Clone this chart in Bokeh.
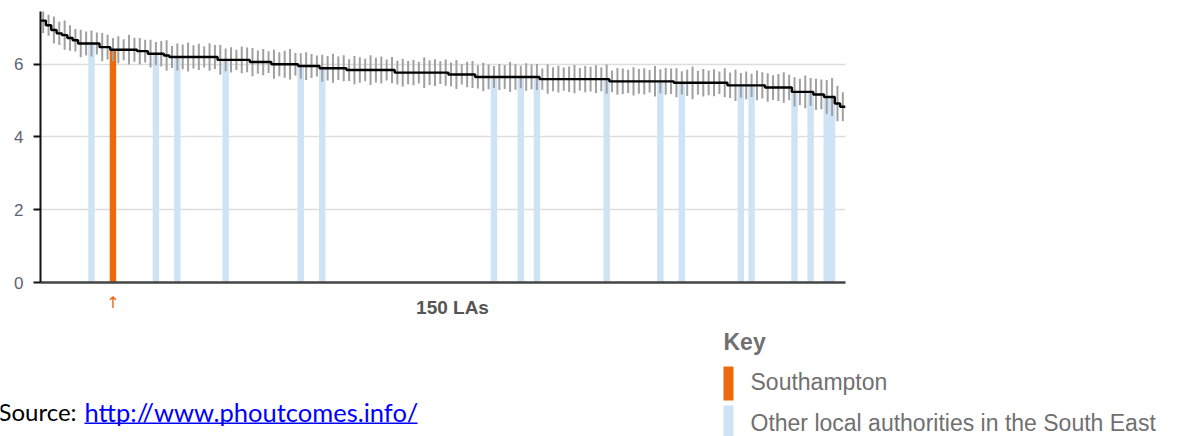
from bokeh.plotting import figure
from bokeh.layouts import column
from bokeh.models import Label, BoxAnnotation, FixedTicker, Range1d, ColumnDataSource
from bokeh.embed import file_html
from bokeh.resources import INLINE

# Indicator value for each of the 150 local authorities, sorted high to low
values = [
    7.20, 7.07, 6.94, 6.85, 6.80, 6.72, 6.66, 6.57, 6.57, 6.57,
    6.57, 6.47, 6.47, 6.40, 6.40, 6.40, 6.40, 6.40, 6.36, 6.36,
    6.29, 6.29, 6.29, 6.24, 6.20, 6.20, 6.20, 6.20, 6.20, 6.20,
    6.20, 6.20, 6.20, 6.12, 6.12, 6.12, 6.12, 6.12, 6.12, 6.06,
    6.06, 6.06, 6.06, 6.00, 6.00, 6.00, 6.00, 6.00, 5.95, 5.95,
    5.95, 5.95, 5.89, 5.89, 5.89, 5.89, 5.89, 5.84, 5.84, 5.84,
    5.84, 5.84, 5.84, 5.84, 5.84, 5.84, 5.77, 5.77, 5.77, 5.77,
    5.77, 5.77, 5.77, 5.77, 5.77, 5.77, 5.72, 5.72, 5.72, 5.72,
    5.72, 5.65, 5.65, 5.65, 5.65, 5.65, 5.65, 5.65, 5.65, 5.65,
    5.65, 5.65, 5.65, 5.59, 5.59, 5.59, 5.59, 5.59, 5.59, 5.59,
    5.59, 5.59, 5.59, 5.59, 5.59, 5.59, 5.53, 5.53, 5.53, 5.53,
    5.53, 5.53, 5.53, 5.53, 5.53, 5.53, 5.53, 5.53, 5.49, 5.49,
    5.49, 5.49, 5.49, 5.49, 5.49, 5.49, 5.49, 5.49, 5.42, 5.42,
    5.42, 5.42, 5.42, 5.42, 5.42, 5.36, 5.36, 5.36, 5.36, 5.36,
    5.24, 5.24, 5.24, 5.24, 5.17, 5.17, 5.10, 5.10, 4.92, 4.83,
]

# Half-width of the confidence interval for each authority
ci_half = [
    0.34, 0.29, 0.37, 0.32, 0.40, 0.35, 0.31, 0.38, 0.33, 0.36,
    0.30, 0.39, 0.34, 0.32, 0.37, 0.29, 0.41, 0.33, 0.36, 0.31,
    0.38, 0.32, 0.35, 0.42, 0.30, 0.37, 0.34, 0.40, 0.32, 0.36,
    0.29, 0.38, 0.33, 0.41, 0.31, 0.35, 0.28, 0.37, 0.34, 0.39,
    0.32, 0.36, 0.30, 0.40, 0.33, 0.37, 0.42, 0.31, 0.35, 0.38,
    0.33, 0.29, 0.37, 0.34, 0.40, 0.32, 0.36, 0.30, 0.39, 0.35,
    0.31, 0.41, 0.34, 0.37, 0.29, 0.36, 0.33, 0.38, 0.32, 0.35,
    0.30, 0.42, 0.34, 0.37, 0.31, 0.36, 0.33, 0.40, 0.28, 0.35,
    0.37, 0.32, 0.39, 0.34, 0.30, 0.36, 0.33, 0.41, 0.35, 0.31,
    0.38, 0.34, 0.36, 0.29, 0.40, 0.33, 0.37, 0.32, 0.35, 0.39,
    0.31, 0.36, 0.34, 0.38, 0.33, 0.40, 0.30, 0.37, 0.35, 0.32,
    0.39, 0.34, 0.36, 0.31, 0.42, 0.33, 0.37, 0.35, 0.40, 0.32,
    0.36, 0.45, 0.33, 0.38, 0.34, 0.37, 0.31, 0.40, 0.35, 0.43,
    0.34, 0.38, 0.32, 0.41, 0.36, 0.39, 0.34, 0.37, 0.42, 0.35,
    0.40, 0.36, 0.45, 0.38, 0.43, 0.41, 0.47, 0.52, 0.49, 0.40,
]

# Rank positions of the highlighted authorities
southampton_rank = 13
other_south_east_ranks = [9, 21, 25, 34, 48, 52, 84, 89, 92, 105,
                          115, 119, 130, 132, 140, 143, 146, 147]

y_ticks = [0, 2, 4, 6]
x_title = "150 LAs"
key_title = "Key"
key_labels = ["Southampton", "Other local authorities in the South East"]
source_prefix = "Source: "
source_url = "http://www.phoutcomes.info/"

ORANGE = "#ec6a0c"
LIGHT_BLUE = "#cfe3f7"
GREY_TEXT = "#707070"
FONT = "Liberation Sans"

# Page geometry (pixels from the top-left corner)
PAGE_W, PAGE_H = 1192, 436
FRAME_LEFT, FRAME_RIGHT, FRAME_TOP, FRAME_BOTTOM = 40, 845, 11, 282
CHART_H = 292                      # height of the chart figure
FOOT_H = PAGE_H - CHART_H          # height of the key / source strip below it

n = len(values)
centres = [i + 0.5 for i in range(n)]
ci_src = ColumnDataSource(dict(
    x=centres,
    lo=[v - h for v, h in zip(values, ci_half)],
    hi=[v + h for v, h in zip(values, ci_half)],
))

# Step outline: one flat segment per authority
step_x, step_y = [], []
for i, v in enumerate(values):
    step_x += [i, i + 1]
    step_y += [v, v]

# ---------------------------------------------------------------- chart
p = figure(width=PAGE_W, height=CHART_H, output_backend="svg", toolbar_location=None,
           x_range=Range1d(0, n), y_range=Range1d(0, 7.45),
           min_border_left=FRAME_LEFT, min_border_right=PAGE_W - FRAME_RIGHT,
           min_border_top=FRAME_TOP, min_border_bottom=CHART_H - FRAME_BOTTOM,
           frame_align=False)
p.outline_line_color = None
p.background_fill_color = "white"
p.border_fill_color = "white"

# highlighted authorities
p.vbar(x=[centres[i] for i in other_south_east_ranks],
       top=[values[i] for i in other_south_east_ranks],
       bottom=0, width=1.2, fill_color=LIGHT_BLUE, line_color=None)
p.vbar(x=[centres[southampton_rank]], top=[values[southampton_rank]],
       bottom=0, width=1.2, fill_color=ORANGE, line_color=None)

# confidence intervals and the ranked values
p.segment(x0="x", y0="lo", x1="x", y1="hi", source=ci_src,
          line_color="#a0a0a0", line_width=2)
p.line(step_x, step_y, line_color="#000000", line_width=2.4)

# axes and grid
p.xgrid.visible = False
p.ygrid.ticker = FixedTicker(ticks=y_ticks)
p.ygrid.grid_line_color = "#dddddd"
p.ygrid.grid_line_width = 1.5

p.yaxis.ticker = FixedTicker(ticks=y_ticks)
p.yaxis.minor_tick_line_color = None
p.yaxis.major_tick_in = 0
p.yaxis.major_tick_out = 7
p.yaxis.axis_line_color = "#111111"
p.yaxis.axis_line_width = 2
p.yaxis.major_tick_line_color = "#111111"
p.yaxis.major_tick_line_width = 2
p.yaxis.major_label_standoff = 10
p.yaxis.major_label_text_font = FONT
p.yaxis.major_label_text_font_size = "17px"
p.yaxis.major_label_text_color = "#5d6470"

p.xaxis.ticker = FixedTicker(ticks=[])
p.xaxis.minor_tick_line_color = None
p.xaxis.major_tick_line_color = None
p.xaxis.major_tick_out = 0
p.xaxis.major_label_standoff = 0
p.xaxis.axis_line_color = "#444444"
p.xaxis.axis_line_width = 2.5

# ---------------------------------------------------------------- key strip
# Same horizontal scale as the chart, so data x lines up with the bars above.
px_per_la = (FRAME_RIGHT - FRAME_LEFT) / n
foot = figure(width=PAGE_W, height=FOOT_H, output_backend="svg", toolbar_location=None,
              x_range=Range1d(-FRAME_LEFT / px_per_la, (PAGE_W - FRAME_LEFT) / px_per_la),
              y_range=Range1d(0, FOOT_H),
              x_axis_location=None, y_axis_location=None,
              min_border=0, frame_align=False)
foot.outline_line_color = None
foot.grid.visible = False
foot.background_fill_color = "white"
foot.border_fill_color = "white"


def fy(py):
    """Page y pixel -> screen units of the strip (measured up from its bottom)."""
    return PAGE_H - py


# marker under Southampton
foot.add_layout(Label(x=centres[southampton_rank], x_units="data",
                      y=fy(CHART_H), y_units="screen", text="\u2191",
                      text_font="DejaVu Sans", text_font_size="16px",
                      text_color=ORANGE, text_align="center",
                      text_baseline="top"))

foot.add_layout(Label(x=452, y=fy(307), x_units="screen", y_units="screen",
                      text=x_title, text_font=FONT, text_font_size="19px",
                      text_font_style="bold", text_color="#555555",
                      text_align="center", text_baseline="middle"))

# key
foot.add_layout(Label(x=723, y=fy(341), x_units="screen", y_units="screen",
                      text=key_title, text_font=FONT, text_font_size="23px",
                      text_font_style="bold", text_color=GREY_TEXT,
                      text_baseline="middle"))
foot.add_layout(BoxAnnotation(left=723, right=733, top=fy(366), bottom=fy(400),
                              left_units="screen", right_units="screen",
                              top_units="screen", bottom_units="screen",
                              fill_color=ORANGE, fill_alpha=1, line_color=None))
foot.add_layout(BoxAnnotation(left=723, right=733, top=fy(405), bottom=fy(PAGE_H),
                              left_units="screen", right_units="screen",
                              top_units="screen", bottom_units="screen",
                              fill_color=LIGHT_BLUE, fill_alpha=1, line_color=None))
foot.add_layout(Label(x=750, y=fy(381), x_units="screen", y_units="screen",
                      text=key_labels[0], text_font=FONT, text_font_size="23px",
                      text_color=GREY_TEXT, text_baseline="middle"))
foot.add_layout(Label(x=750, y=fy(422), x_units="screen", y_units="screen",
                      text=key_labels[1], text_font=FONT, text_font_size="23px",
                      text_color=GREY_TEXT, text_baseline="middle"))

# source line
foot.add_layout(Label(x=-2, y=fy(411), x_units="screen", y_units="screen",
                      text=source_prefix, text_font="Lato", text_font_size="24px",
                      text_color="#000000", text_baseline="middle"))
foot.add_layout(Label(x=84, y=fy(411), x_units="screen", y_units="screen",
                      text=source_url, text_font="Lato", text_font_size="25.5px",
                      text_color="#0000ff", text_baseline="middle"))
foot.add_layout(BoxAnnotation(left=84, right=417, top=fy(422), bottom=fy(423.5),
                              left_units="screen", right_units="screen",
                              top_units="screen", bottom_units="screen",
                              fill_color="#0000ff", fill_alpha=1, line_color=None))

page = column(p, foot, spacing=0)
open("out.html", "w").write(file_html(page, INLINE))
